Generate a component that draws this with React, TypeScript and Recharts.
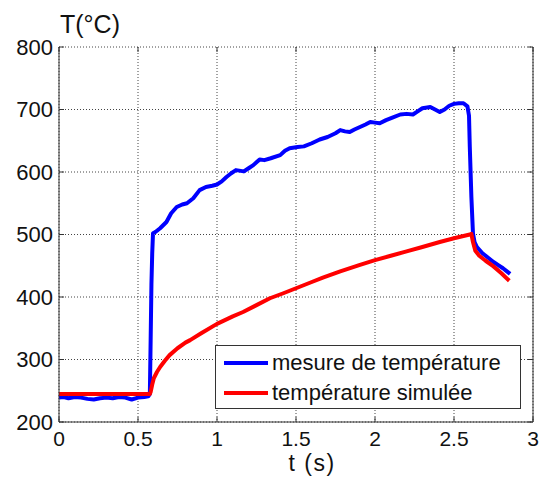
import { LineChart, Line, XAxis, YAxis, CartesianGrid, ReferenceLine, Legend } from "recharts"

// measured (blue) and simulated (red) temperature vs time
const measTime = [
  0, 0.03, 0.06, 0.1, 0.14, 0.18, 0.22, 0.26, 0.3, 0.34, 0.38, 0.42, 0.46, 0.5, 0.54, 0.565, 0.575,
  0.58, 0.585, 0.59, 0.595, 0.61, 0.64, 0.68, 0.71, 0.745, 0.78, 0.81, 0.85, 0.89, 0.93, 0.97, 1.0,
  1.03, 1.06, 1.09, 1.12, 1.17, 1.2, 1.23, 1.27, 1.3, 1.34, 1.4, 1.43, 1.46, 1.51, 1.55, 1.6, 1.65,
  1.7, 1.75, 1.78, 1.81, 1.84, 1.87, 1.905, 1.94, 1.97, 2.0, 2.03, 2.07, 2.11, 2.16, 2.2, 2.24, 2.27,
  2.3, 2.35, 2.38, 2.41, 2.44, 2.47, 2.5, 2.53, 2.56, 2.585, 2.595, 2.6, 2.61, 2.62, 2.63, 2.645,
  2.68, 2.72, 2.75, 2.78, 2.81, 2.835, 2.855,
]
const measTemp = [
  239, 240, 238, 240, 239, 237, 236, 238, 239, 238, 240, 239, 236, 239, 240, 241, 245,
  330, 420, 470, 502, 504, 510, 520, 534, 544, 548, 550, 558, 571, 576, 578, 580,
  585, 592, 598, 603, 601, 606, 611, 620, 619, 622, 627, 634, 638, 640, 641, 646, 652,
  656, 662, 667, 665, 664, 668, 672, 676, 680, 679, 678, 683, 687, 692, 693, 692, 697,
  702, 704, 700, 696, 700, 706, 709, 710, 710, 705, 690, 640, 560, 502, 488, 480,
  470, 462, 456, 451, 446, 441, 437,
]

const simTime = [
  0, 0.575, 0.58, 0.59, 0.6, 0.62, 0.64, 0.67, 0.7, 0.75, 0.8, 0.83, 0.9, 1.0, 1.1, 1.165, 1.25,
  1.335, 1.42, 1.5, 1.6, 1.67, 1.78, 1.9, 2.0, 2.1, 2.2, 2.3, 2.41, 2.5, 2.6, 2.61, 2.62, 2.635,
  2.66, 2.7, 2.75, 2.8, 2.85,
]
const simTemp = [
  245, 245, 248, 260, 270, 280, 288, 298, 307, 318, 327, 331, 342, 357, 369, 376, 387,
  398, 406, 414, 424, 431, 441, 451, 459, 466, 473, 480, 488, 494, 500, 501, 488, 474,
  466, 458, 449, 438, 426,
]

const xTicks = [0, 0.5, 1, 1.5, 2, 2.5, 3]
const yTicks = [200, 300, 400, 500, 600, 700, 800]

const measData = measTime.map((t, i) => ({ t, v: measTemp[i] }))
const simData = simTime.map((t, i) => ({ t, v: simTemp[i] }))

const W = 539
const H = 477
const LEFT = 59
const TOP = 47
const RIGHT = 533
const BOTTOM = 422
const FONT = "'Liberation Sans', Arial, Helvetica, sans-serif"
const AXIS = "#333"

const XTick = ({ x, y, payload }: any) => (
  <g>
    <line x1={x} x2={x} y1={BOTTOM} y2={BOTTOM - 5} stroke={AXIS} />
    <line x1={x} x2={x} y1={TOP} y2={TOP + 5} stroke={AXIS} />
    <text x={x} y={y} dy="0.71em" textAnchor="middle" fontSize={21} fill="#111" fontFamily={FONT}>
      {payload.value}
    </text>
  </g>
)

const YTick = ({ x, y, payload }: any) => (
  <g>
    <line x1={LEFT} x2={LEFT + 5} y1={y} y2={y} stroke={AXIS} />
    <line x1={RIGHT} x2={RIGHT - 5} y1={y} y2={y} stroke={AXIS} />
    <text x={x} y={y} dy="0.36em" textAnchor="end" fontSize={22} fill="#111" fontFamily={FONT}>
      {payload.value}
    </text>
  </g>
)

const LegendBox = ({ payload }: any) => (
  <div
    style={{
      width: 306,
      height: 64,
      border: `1px solid ${AXIS}`,
      background: "#fff",
      fontFamily: FONT,
      fontSize: 22,
      color: "#111",
      padding: "2px 0 0 8px",
      boxSizing: "border-box",
    }}
  >
    {(payload || []).map((p: any) => (
      <div key={p.value} style={{ display: "flex", alignItems: "center", height: 30 }}>
        <span style={{ display: "inline-block", width: 44, height: 4, background: p.color, marginRight: 4 }} />
        <span>{p.value}</span>
      </div>
    ))}
  </div>
)

export default function App() {
  return (
    <div style={{ position: "absolute", left: 0, top: 0, width: W, height: H, background: "#fff" }}>
      <LineChart width={W} height={H} margin={{ top: TOP, right: W - RIGHT, bottom: 0, left: 0 }}>
        <CartesianGrid stroke="#444" strokeDasharray="1 2" />
        <XAxis
          dataKey="t"
          type="number"
          domain={[0, 3]}
          ticks={xTicks}
          allowDuplicatedCategory={false}
          height={H - BOTTOM}
          tickLine={false}
          tickSize={0}
          tickMargin={9}
          tick={<XTick />}
          stroke={AXIS}
          label={({ viewBox }: any) => (
            <text
              x={viewBox.x + viewBox.width / 2 + 16}
              y={viewBox.y + 49}
              textAnchor="middle"
              fontSize={23}
              fill="#111"
              fontFamily={FONT}
              letterSpacing={1.5}
            >
              t (s)
            </text>
          )}
        />
        <YAxis
          type="number"
          domain={[200, 800]}
          ticks={yTicks}
          width={LEFT}
          tickLine={false}
          tickSize={0}
          tickMargin={6}
          tick={<YTick />}
          stroke={AXIS}
          label={({ viewBox }: any) => (
            <text x={viewBox.x + viewBox.width + 1} y={viewBox.y - 14} fontSize={25} fill="#111" fontFamily={FONT}>
              T(°C)
            </text>
          )}
        />
        <ReferenceLine x={3} stroke={AXIS} />
        <Line
          data={measData}
          dataKey="v"
          name="mesure de température"
          stroke="#0000ff"
          strokeWidth={4}
          dot={false}
          strokeLinejoin="round"
          isAnimationActive={false}
        />
        <Line
          data={simData}
          dataKey="v"
          name="température simulée"
          stroke="#ff0000"
          strokeWidth={4}
          dot={false}
          strokeLinejoin="round"
          isAnimationActive={false}
        />
        <Legend
          layout="horizontal"
          verticalAlign="middle"
          content={<LegendBox />}
          wrapperStyle={{ left: 215, top: 345, width: 308 }}
        />
      </LineChart>
    </div>
  )
}
